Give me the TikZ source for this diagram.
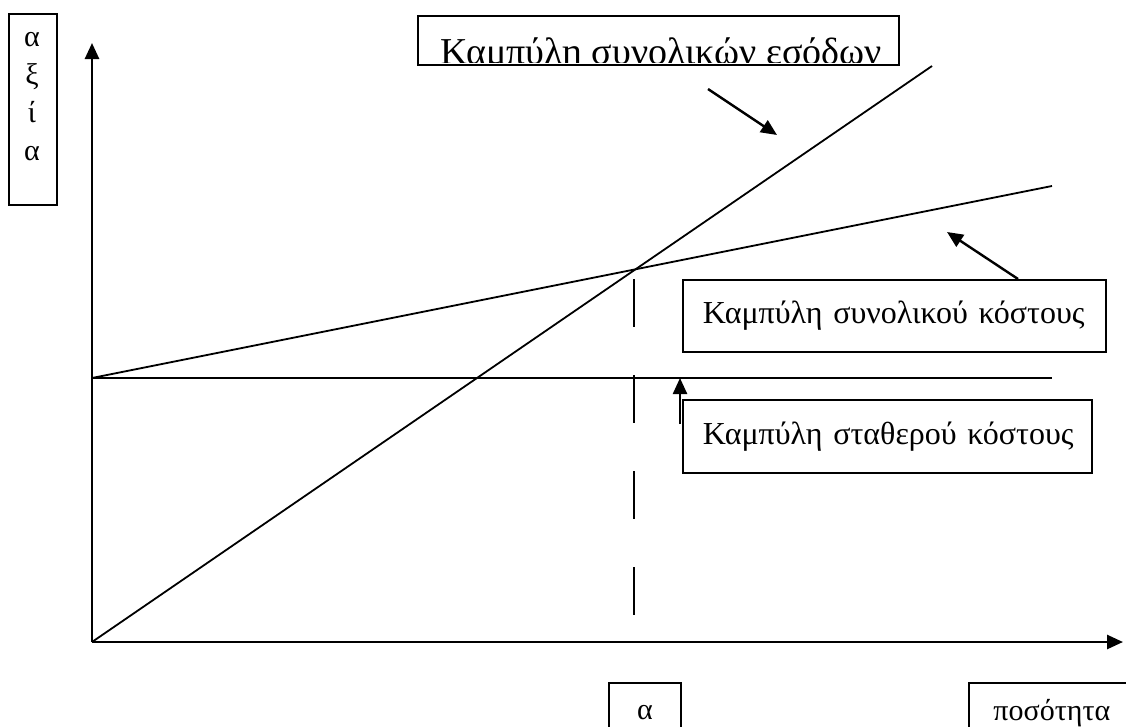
\documentclass[tikz,border=0pt]{standalone}
\usepackage{fontspec}
\setmainfont{Liberation Serif}
\usetikzlibrary{arrows.meta}

\begin{document}
\begin{tikzpicture}[x=1pt, y=-1pt,
                    >={Triangle[length=16pt,width=14pt]},
                    axis/.style={->, line width=2.6pt},
                    curve/.style={line width=1.8pt},
                    pointer/.style={->, line width=2.4pt},
                    label box/.style={draw, line width=1.7pt, anchor=north west, inner xsep=20pt,
                                      inner ysep=0pt, align=left, font=\fontsize{32}{36}\selectfont}]
  \useasboundingbox (0,0) rectangle (1126,726);

  % axes
  \coordinate (O) at (92,642);
  \coordinate (ytop) at (92,43);
  \coordinate (xend) at (1123,642);
  \draw[axis] (O) -- (ytop);
  \draw[axis] (O) -- (xend);

  % curves
  \coordinate (F) at (92,378);
  \coordinate (Fend) at (1052,378);
  \coordinate (Cend) at (1052,186);
  \coordinate (Rend) at (932,66);
  \draw[curve] (F) -- (Fend);
  \draw[curve] (F) -- (Cend);
  \draw[curve] (O) -- (Rend);

  % break-even
  \coordinate (be) at (634,279);
  \coordinate (be0) at (634,642);
  \draw[curve, dash pattern=on 48pt off 48pt] (be) -- (be0);

  % labels
  \node[label box, minimum width=481pt, minimum height=49pt] (tr) at (417,15) {};
  \begin{scope}
    \clip (417,15) rectangle (898,62);
    \node[anchor=base west, inner sep=0pt, font=\fontsize{38}{40}\selectfont] (trtxt) at (440,64) {Καμπύλη συνολικών εσόδων};
  \end{scope}
  \node[label box, minimum height=72pt, text width=383pt] (tc) at (682,279) {\mbox{Καμπύλη συνολικού κόστους}};
  \node[label box, minimum height=73pt, text width=369pt] (fc) at (682,399) {\mbox{Καμπύλη σταθερού κόστους}};
  \node[draw, line width=1.7pt, anchor=north west, minimum width=48pt, minimum height=191pt] (val) at (8,13) {};
  \node[anchor=north, align=center, inner sep=0pt, font=\fontsize{30}{38}\selectfont] (valtxt) at (32,32) {α\\ξ\\ί\\α};
  \node[draw, line width=1.7pt, anchor=north west, minimum width=72pt, minimum height=60pt,
        font=\fontsize{30}{36}\selectfont] (a) at (608,682) {α};
  \node[draw, line width=1.7pt, anchor=north west, minimum width=166pt, minimum height=60pt,
        font=\fontsize{30}{36}\selectfont] (qty) at (968,682) {ποσότητα};

  % pointers
  \coordinate (trp) at (708,89);
  \coordinate (trq) at (777,135);
  \coordinate (tcp) at (1018,279);
  \coordinate (tcq) at (947,232);
  \coordinate (fcp) at (680,424);
  \coordinate (fcq) at (680,378);
  \draw[pointer] (trp) -- (trq);
  \draw[pointer] (tcp) -- (tcq);
  \draw[pointer] (fcp) -- (fcq);
\end{tikzpicture}
\end{document}
